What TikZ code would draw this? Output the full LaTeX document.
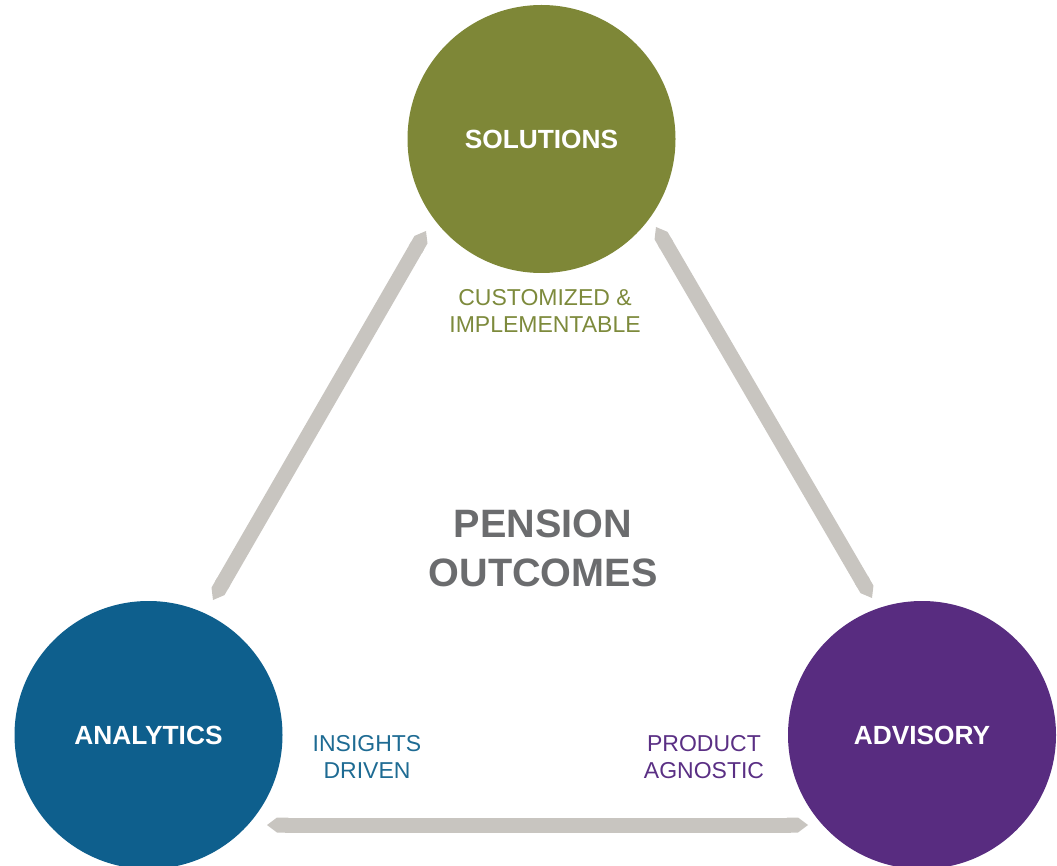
\documentclass[tikz,border=0pt]{standalone}
\usepackage{fontspec}
\setmainfont{Liberation Sans}
\usetikzlibrary{arrows.meta}
\definecolor{olivec}{HTML}{7E8737}
\definecolor{bluec}{HTML}{0E5F8D}
\definecolor{purplec}{HTML}{582C80}
\definecolor{barc}{HTML}{C8C5C0}
\definecolor{grayt}{HTML}{6B6C6E}
\definecolor{olivet}{HTML}{7D8A3C}
\definecolor{bluet}{HTML}{1E6B93}
\definecolor{purplet}{HTML}{5A2F84}
\tikzset{
  hub/.style={circle, minimum size=268pt, inner sep=0pt, text=white,
    font=\fontsize{26.3}{30}\selectfont\bfseries},
  bar/.style={draw=barc, line width=15pt,
    {Triangle Cap[length=10pt]}-{Triangle Cap[length=10pt]}},
  tag/.style={align=center, font=\fontsize{23}{27.5}\selectfont},
  core/.style={align=center, text=grayt, font=\fontsize{39.6}{49}\selectfont\bfseries}
}
\begin{document}
\begin{tikzpicture}[x=1pt, y=-1pt]
  \useasboundingbox (0,0) rectangle (1057,866);
  \clip (0,0) rectangle (1057,866);

  % connecting bars of the triangle
  \coordinate (l1) at (213,600);
  \coordinate (l2) at (426,231);
  \coordinate (r1) at (656,227);
  \coordinate (r2) at (872,598);
  \coordinate (b1) at (267,825);
  \coordinate (b2) at (808,825);
  \draw[bar] (l1) -- (l2);
  \draw[bar] (r1) -- (r2);
  \draw[bar] (b1) -- (b2);

  % the three hubs
  \node[hub, fill=olivec] (sol) at (541.5,139) {SOLUTIONS};
  \node[hub, fill=bluec] (ana) at (148.5,735) {ANALYTICS};
  \node[hub, fill=purplec] (adv) at (922,735) {ADVISORY};

  % captions
  \node[tag, text=olivet] (solt) at (545,311) {CUSTOMIZED \&\\IMPLEMENTABLE};
  \node[tag, text=bluet] (anat) at (367,757) {INSIGHTS\\DRIVEN};
  \node[tag, text=purplet] (advt) at (704,757) {PRODUCT\\AGNOSTIC};

  % centre title
  \node[core] (title) at (543,548) {PENSION\\OUTCOMES};
\end{tikzpicture}
\end{document}
